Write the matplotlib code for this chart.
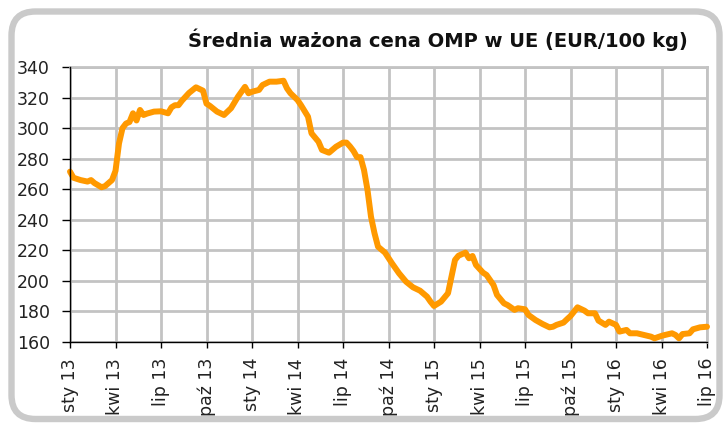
import matplotlib
matplotlib.use("Agg")
import matplotlib.pyplot as plt
from matplotlib.patches import FancyBboxPatch

# weekly prices (week 0 = first week of Jan 2013)
weeks = [0, 1, 3, 5, 6, 7, 9, 10, 12, 13, 14, 15, 16, 17, 18, 19, 20, 21, 22,
         24, 26, 28, 29, 30, 31, 32, 34, 36, 38, 39, 40, 42, 44, 46, 48, 50,
         51, 52, 54, 55, 57, 59, 61, 62, 63, 65, 66, 68, 69, 71, 72, 74, 76,
         78, 79, 80, 81, 82, 83, 84, 85, 86, 87, 88, 90, 92, 94, 96, 98, 100,
         102, 103, 104, 106, 108, 109, 110, 111, 113, 114, 115, 116, 118, 119,
         121, 122, 124, 125, 127, 128, 130, 131, 133, 135, 137, 138, 139, 141,
         142, 143, 145, 147, 148, 150, 151, 153, 154, 156, 157, 159, 160, 162,
         164, 166, 167, 169, 170, 172, 173, 174, 175, 177, 178, 180, 182]
price = [271.5, 267.5, 266, 265, 266, 264, 261.3, 262, 266, 272, 290, 300,
         303, 304, 309.7, 305, 311.9, 308.6, 309.5, 310.8, 311, 309.7, 313.6,
         315, 315, 318, 323, 326.7, 324.5, 316, 314.5, 310.8, 308.6, 313,
         320.6, 327, 322.8, 323.8, 325, 328.2, 330.4, 330.4, 331, 326, 322.8,
         318.4, 315, 307.5, 296.6, 291.1, 285.7, 283.9, 287.8, 290.5, 290.5,
         288, 285, 281, 281, 272.6, 259.5, 242, 231.2, 222.4, 218.5, 211.5,
         205, 199.5, 195.8, 193.6, 189.7, 186.4, 183.6, 186.4, 191.9, 202.8,
         213.7, 216.5, 218.5, 214.8, 216.3, 210.4, 205.4, 203.9, 197.3, 190.8,
         185.3, 184.2, 181, 182.1, 181.4, 177.7, 174.4, 171.8, 169.6, 170,
         171.2, 172.7, 174.9, 177, 182.7, 180.5, 178.8, 178.8, 174, 171.2,
         173.3, 171.2, 166.8, 167.9, 165.7, 165.7, 164.6, 163.5, 162.4, 164,
         164.6, 165.7, 164.6, 162.4, 165.2, 165.7, 168.3, 169.6, 170]

tick_labels = ["sty 13", "kwi 13", "lip 13", "paź 13",
               "sty 14", "kwi 14", "lip 14", "paź 14",
               "sty 15", "kwi 15", "lip 15", "paź 15",
               "sty 16", "kwi 16", "lip 16"]
title = "Średnia ważona cena OMP w UE (EUR/100 kg)"

grid_col = "#c3c3c3"
W, H = 723, 425

fig = plt.figure(figsize=(W / 100, H / 100), dpi=100)
fig.patch.set_facecolor("white")

# background axes in pixel units, for the rounded grey frame
bg = fig.add_axes([0, 0, 1, 1])
bg.set_xlim(0, W)
bg.set_ylim(H, 0)
bg.axis("off")
bg.add_patch(FancyBboxPatch((11.5, 11.5), 708, 407.5,
                            boxstyle="round,pad=0,rounding_size=24",
                            facecolor="none", edgecolor="#cacaca",
                            linewidth=4.6))

ax = fig.add_axes([70 / W, 1 - 342 / H, 637 / W, 275 / H])
ax.plot(weeks, price, color="#ff9900", linewidth=4.3,
        solid_joinstyle="round", solid_capstyle="round", clip_on=False, zorder=3)

ax.set_xlim(0, 182)
ax.set_ylim(160, 340)
ax.set_yticks(range(160, 341, 20))
ax.set_xticks(range(0, 183, 13))
ax.set_xticklabels(tick_labels, rotation=90)

ax.grid(True, color=grid_col, linewidth=2)
ax.set_axisbelow(True)
for side in ["top", "right"]:
    ax.spines[side].set_color(grid_col)
    ax.spines[side].set_linewidth(2)
for side in ["left", "bottom"]:
    ax.spines[side].set_color("black")
    ax.spines[side].set_linewidth(1)
    ax.spines[side].set_zorder(4)

ax.tick_params(axis="y", length=6, width=1, pad=8.5, labelsize=12.5,
               labelcolor="#222222")
ax.tick_params(axis="x", length=4, width=1, pad=7.5, labelsize=12.5,
               labelcolor="#222222")

fig.text(688 / W, 1 - 40 / H, title, ha="right", va="center",
         fontsize=14, fontweight="bold", color="#111111")

fig.savefig("out.png", dpi=100)
